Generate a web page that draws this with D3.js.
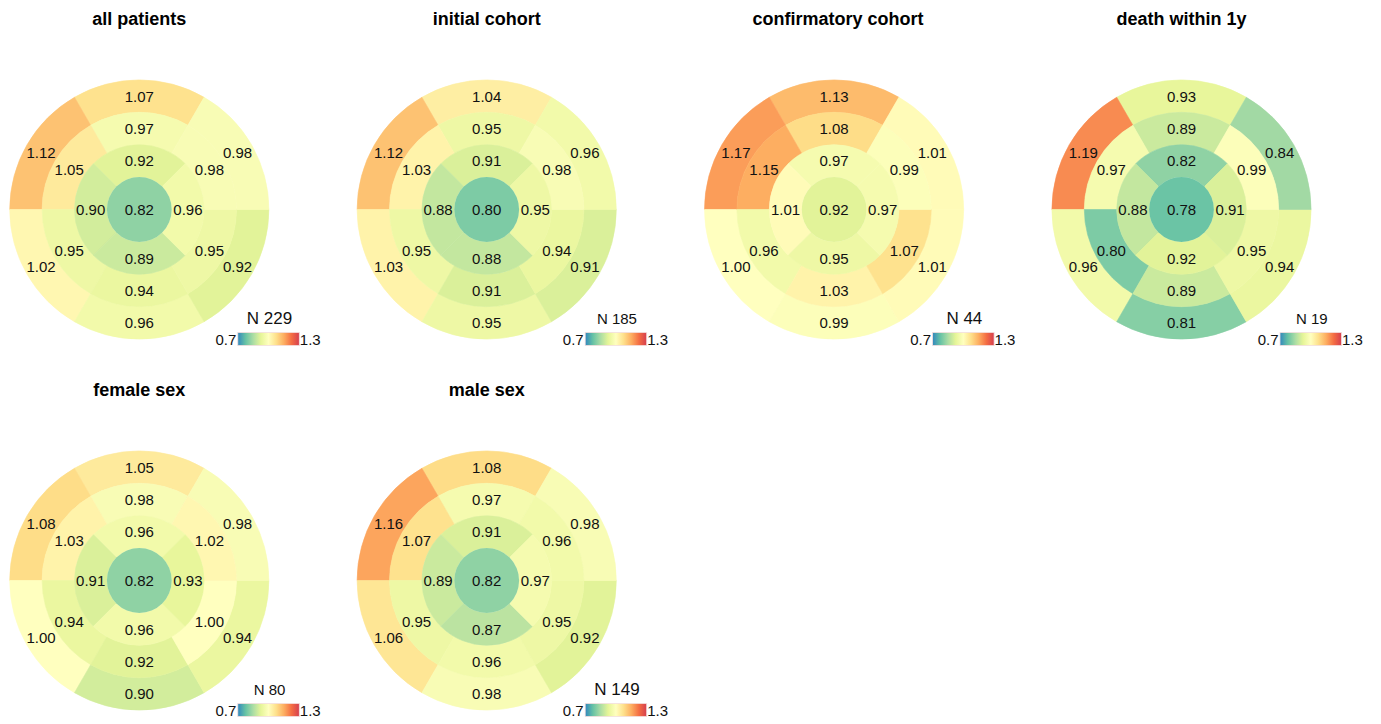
<!DOCTYPE html>
<html>
<head>
<meta charset="utf-8">
<script src="https://cdn.jsdelivr.net/npm/d3@7"></script>
<style>
  html, body { margin: 0; padding: 0; background: #fff; }
  svg { display: block; }
  text { font-family: "Liberation Sans", Arial, sans-serif; }
</style>
</head>
<body>
<svg id="chart" width="1381" height="724"></svg>
<script>
// ---- data ----
const panelTitles = ["all patients", "initial cohort", "confirmatory cohort", "death within 1y", "female sex", "male sex"];
const sampleSizes = [229, 185, 44, 19, 80, 149];
// segment order (counter-clockwise from top): anterior, anteroseptal, inferoseptal, inferior, inferolateral, anterolateral
const basalValues = [
  [1.07, 1.12, 1.02, 0.96, 0.92, 0.98],
  [1.04, 1.12, 1.03, 0.95, 0.91, 0.96],
  [1.13, 1.17, 1.00, 0.99, 1.01, 1.01],
  [0.93, 1.19, 0.96, 0.81, 0.94, 0.84],
  [1.05, 1.08, 1.00, 0.90, 0.94, 0.98],
  [1.08, 1.16, 1.06, 0.98, 0.92, 0.98]
];
const midValues = [
  [0.97, 1.05, 0.95, 0.94, 0.95, 0.98],
  [0.95, 1.03, 0.95, 0.91, 0.94, 0.98],
  [1.08, 1.15, 0.96, 1.03, 1.07, 0.99],
  [0.89, 0.97, 0.80, 0.89, 0.95, 0.99],
  [0.98, 1.03, 0.94, 0.92, 1.00, 1.02],
  [0.97, 1.07, 0.95, 0.96, 0.95, 0.96]
];
// apical order (counter-clockwise from top): anterior, septal, inferior, lateral
const apicalValues = [
  [0.92, 0.90, 0.89, 0.96],
  [0.91, 0.88, 0.88, 0.95],
  [0.97, 1.01, 0.95, 0.97],
  [0.82, 0.88, 0.92, 0.91],
  [0.96, 0.91, 0.96, 0.93],
  [0.91, 0.89, 0.87, 0.97]
];
const apexValues = [0.82, 0.80, 0.92, 0.78, 0.82, 0.82];
const colorbarTicks = [0.7, 1.3];
const spectralColors = ["#3288bd", "#66c2a5", "#abdda4", "#e6f598", "#ffffbf", "#fee08b", "#fdae61", "#f46d43", "#d53e4f"];

// ---- layout ----
const svg = d3.select("#chart");
const panelX = d3.scaleLinear().domain([0, 3]).range([139.3, 1181.5]);
const panelY = d3.scaleLinear().domain([0, 1]).range([209.5, 580.5]);
const ringR = d3.scaleLinear().domain([0, 4]).range([0, 129.6]);
const largeN = [true, false, true, false, false, true];

const vmin = colorbarTicks[0], vmax = colorbarTicks[1];
const color = d3.scaleLinear()
  .domain(d3.range(spectralColors.length).map(i => vmin + (vmax - vmin) * i / (spectralColors.length - 1)))
  .range(spectralColors)
  .interpolate(d3.interpolateRgb)
  .clamp(true);

// gradient for colorbar
const defs = svg.append("defs");
const grad = defs.append("linearGradient").attr("id", "cbar").attr("x1", "0%").attr("x2", "100%");
spectralColors.forEach((c, i) => {
  grad.append("stop").attr("offset", (100 * i / (spectralColors.length - 1)) + "%").attr("stop-color", c);
});

const arc = d3.arc();
const deg = Math.PI / 180;
const fmt = d3.format(".2f");

panelTitles.forEach((title, p) => {
  const col = p % 4, row = Math.floor(p / 4);
  const cx = panelX(col), cy = panelY(row);
  const g = svg.append("g").attr("transform", `translate(${cx},${cy})`);

  const rings = [
    { vals: basalValues[p], r0: ringR(3), r1: ringR(4), rl: ringR(3.5) },
    { vals: midValues[p], r0: ringR(2), r1: ringR(3), rl: ringR(2.5) },
    { vals: apicalValues[p], r0: ringR(1), r1: ringR(2), rl: ringR(1.5) }
  ];
  rings.forEach(ring => {
    const n = ring.vals.length;
    const w = 360 / n;
    const segs = ring.vals.map((v, i) => {
      const th = 90 + w * i; // math angle, ccw from east
      return {
        v, th,
        startAngle: (90 - (th + w / 2)) * deg,
        endAngle: (90 - (th - w / 2)) * deg,
        innerRadius: ring.r0,
        outerRadius: ring.r1
      };
    });
    g.selectAll(null).data(segs).enter().append("path")
      .attr("d", d => arc(d))
      .attr("fill", d => color(d.v))
      .attr("stroke", d => color(d.v))
      .attr("stroke-width", 0.6);
    g.selectAll(null).data(segs).enter().append("text")
      .attr("x", d => ring.rl * Math.cos(d.th * deg))
      .attr("y", d => -ring.rl * Math.sin(d.th * deg))
      .attr("text-anchor", "middle")
      .attr("dominant-baseline", "central")
      .attr("font-size", 15)
      .attr("fill", "#111")
      .text(d => fmt(d.v));
  });
  // apex
  g.append("circle").attr("r", ringR(1)).attr("fill", color(apexValues[p]));
  g.append("text")
    .attr("text-anchor", "middle").attr("dominant-baseline", "central")
    .attr("font-size", 15).attr("fill", "#111")
    .text(fmt(apexValues[p]));

  // title
  svg.append("text")
    .attr("x", cx + (p === 2 ? 4 : 0)).attr("y", cy - 185)
    .attr("text-anchor", "middle")
    .attr("font-size", 18).attr("font-weight", "bold").attr("fill", "#000")
    .text(title);

  // colorbar
  const barX = d3.scaleLinear().domain([vmin, vmax]).range([cx + 98.5, cx + 160]);
  const cb = svg.append("g");
  cb.append("rect")
    .attr("x", barX(vmin)).attr("y", cy + 123)
    .attr("width", barX(vmax) - barX(vmin)).attr("height", 13)
    .attr("fill", "url(#cbar)")
    .attr("stroke", "#f3dede").attr("stroke-width", 0.8);
  cb.append("text")
    .attr("x", barX(vmin) - 1.5).attr("y", cy + 135.5)
    .attr("text-anchor", "end").attr("font-size", 15).attr("fill", "#111")
    .text(String(colorbarTicks[0]));
  cb.append("text")
    .attr("x", barX(vmax) + 0.5).attr("y", cy + 135.5)
    .attr("text-anchor", "start").attr("font-size", 15).attr("fill", "#111")
    .text(String(colorbarTicks[1]));
  cb.append("text")
    .attr("x", (barX(vmin) + barX(vmax)) / 2 + 1).attr("y", cy + 114.5)
    .attr("text-anchor", "middle")
    .attr("font-size", largeN[p] ? 17 : 15)
    .attr("fill", "#111")
    .text("N " + sampleSizes[p]);
});
</script>
</body>
</html>
